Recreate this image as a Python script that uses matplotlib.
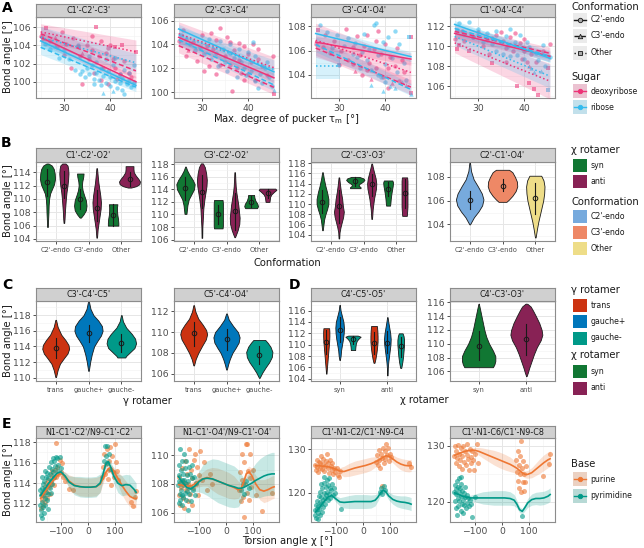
import numpy as np
import matplotlib
matplotlib.use("Agg")
import matplotlib.pyplot as plt
from matplotlib.patches import Rectangle
from matplotlib.ticker import MultipleLocator

# ---------------- data: panel A (bond angle vs. pucker amplitude) ----------------
conformations = ["C2'-endo", "C3'-endo", "Other"]
sugars = ["deoxyribose", "ribose"]
A_titles = ["C1'-C2'-C3'", "C2'-C3'-C4'", "C3'-C4'-O4'", "C1'-O4'-C4'"]

# fits: sugar, conformation index, x start, x end, y start, y end, band half-width start, end
fits_A1 = [(0, 0, 25, 45.5, 104.9, 100.0, 0.7, 0.6), (0, 1, 25, 45.5, 105.3, 101.2, 0.8, 0.8),
           (0, 2, 25, 45.5, 105.5, 103.3, 0.9, 1.3), (1, 0, 25, 45.5, 104.5, 99.6, 0.6, 0.4),
           (1, 1, 25, 45.5, 103.8, 99.4, 0.8, 0.5), (1, 2, 25, 45.5, 104.9, 102.1, 1.2, 1.0)]
fits_A2 = [(0, 0, 25, 45.5, 104.6, 101.2, 0.4, 0.4), (0, 1, 25, 45.5, 103.9, 100.4, 0.6, 0.6),
           (0, 2, 25, 45.5, 104.9, 102.05, 1.0, 0.9), (1, 0, 25, 45.5, 105.3, 101.7, 0.4, 0.3),
           (1, 1, 25, 45.5, 104.4, 100.6, 0.5, 0.5), (1, 2, 25, 45.5, 104.8, 101.9, 0.7, 0.8)]
fits_A3 = [(0, 0, 25, 45.5, 106.7, 105.3, 0.5, 0.5), (0, 1, 25, 45.5, 106.2, 103.0, 0.6, 0.6),
           (0, 2, 25, 45.5, 106.85, 104.2, 1.4, 1.0), (1, 0, 25, 45.5, 107.4, 105.5, 0.5, 0.4),
           (1, 1, 25, 45.5, 106.5, 102.8, 0.6, 0.5), (1, 2, 25, 30.3, 104.75, 104.75, 1.1, 1.1)]
fits_A4 = [(0, 0, 25, 45.5, 111.3, 109.0, 0.5, 0.5), (0, 1, 25, 45.5, 111.5, 109.3, 0.6, 0.6),
           (0, 2, 25, 45.5, 110.35, 106.5, 1.0, 1.8), (1, 0, 25, 45.5, 112.2, 108.8, 0.4, 0.4),
           (1, 1, 25, 45.5, 111.8, 109.0, 0.6, 0.6), (1, 2, 25, 45.5, 111.0, 107.0, 0.9, 1.2)]

# points: (tau_m, bond angle, conformation index)
pts_A1_deoxy = [(25, 105.1, 0), (25.5, 104.8, 1), (26.2, 105.9, 2), (27, 104.5, 0), (28.5, 103.8, 0), (29.5, 105.5, 0),
                (30.5, 104.2, 0), (31.5, 101.5, 0), (32, 104.8, 0), (33, 103.9, 0), (34, 99.8, 0), (35, 104.0, 0),
                (35.5, 102.5, 0), (36, 103.5, 0), (37, 106.0, 2), (37.5, 102.8, 0), (38, 104.5, 0), (38.5, 101.5, 0),
                (39, 103.2, 0), (39.5, 103.7, 0), (40, 104.0, 0), (40.5, 102.5, 0), (41, 103.8, 2), (41, 101.5, 0),
                (42, 100.8, 0), (42.5, 104.0, 2), (43, 102.3, 0), (44, 101.0, 0), (45.5, 103.3, 2), (44.5, 100.5, 0),
                (36.5, 101.0, 0), (33.5, 102.8, 0), (30, 103.0, 0), (38, 100.2, 0), (39.5, 99.8, 0), (41.5, 100.3, 0),
                (34, 103.2, 1), (36, 105.0, 0), (28, 104.9, 1)]
pts_A1_ribose = [(26, 104.2, 0), (27, 103.6, 0), (28, 103.9, 1), (29, 102.6, 0), (30, 103.5, 0), (31, 102.5, 0),
                 (33, 104.0, 0), (32.5, 101.3, 0), (34, 101.2, 0), (34.5, 100.5, 0), (35, 101.5, 0), (35.5, 100.8, 0),
                 (36, 101.8, 0), (36.5, 100.3, 0), (37, 101.0, 0), (37.5, 100.2, 0), (38, 101.5, 0), (38.5, 98.8, 1),
                 (38.5, 100.6, 0), (39, 99.9, 0), (39.5, 101.2, 0), (40, 100.5, 0), (40, 99.5, 0), (40.5, 101.8, 0),
                 (41, 100.1, 0), (41.5, 99.3, 0), (42, 100.8, 0), (42, 99.9, 0), (42.5, 100.4, 0), (43, 98.6, 0),
                 (43.5, 99.8, 0), (44, 100.2, 0), (44.5, 99.4, 0), (45, 100.0, 0), (45, 101.8, 0), (39, 102.5, 0),
                 (37, 102.2, 0), (35.5, 102.8, 0), (41, 102.6, 0), (43, 101.3, 0), (33.5, 100.9, 0), (44, 101.0, 0),
                 (38, 99.6, 0), (40.5, 99.0, 1), (36.5, 99.8, 0), (42.5, 99.1, 0)]
pts_A2_deoxy = [(25, 104.3, 0), (26, 105.2, 0), (26.5, 103.0, 0), (27, 103.5, 1), (28, 104.2, 0), (29, 102.6, 0),
                (30, 104.8, 0), (31, 103.9, 0), (31.5, 102.2, 0), (32, 105.0, 0), (32.5, 103.6, 0), (33, 104.4, 0),
                (34, 105.4, 0), (34, 102.3, 0), (35, 103.0, 0), (35.5, 104.6, 0), (36, 102.3, 0), (36.5, 100.1, 0),
                (37, 103.5, 0), (37.5, 102.0, 0), (38, 104.1, 0), (38.5, 101.6, 0), (39, 103.9, 0), (39, 101.0, 0),
                (40, 103.2, 0), (40.5, 102.5, 0), (41, 104.0, 0), (41.5, 101.0, 0), (42, 103.6, 0), (43, 102.2, 0),
                (44, 101.4, 0), (45.3, 103.0, 0), (45.5, 99.8, 2), (30.5, 101.8, 0), (33, 101.5, 0), (36, 104.2, 0),
                (38, 102.7, 0), (40, 101.5, 0), (42, 102.8, 0)]
pts_A2_ribose = [(25.5, 104.8, 0), (26.5, 104.5, 0), (27.5, 104.0, 0), (28.5, 103.5, 0), (29.5, 103.8, 0),
                 (30.5, 103.2, 0), (31.5, 104.5, 0), (32, 102.8, 0), (33, 103.3, 0), (33.5, 102.2, 0), (34.5, 103.6, 0),
                 (35, 102.5, 0), (35.5, 101.8, 0), (36, 103.3, 0), (37, 102.9, 0), (37.5, 101.3, 0), (38, 103.6, 0),
                 (38.5, 102.5, 0), (39, 102.0, 0), (39.5, 101.4, 0), (40, 103.4, 0), (40.5, 101.8, 0), (41, 104.2, 0),
                 (41.5, 100.9, 0), (42, 100.3, 0), (42.5, 101.5, 0), (43, 100.8, 0), (44, 102.5, 0), (44.5, 101.3, 0),
                 (45, 100.5, 0), (45.5, 100.2, 1), (36, 104.0, 0), (34, 104.3, 0), (41.5, 103.0, 0), (43.5, 102.0, 0)]
pts_A3_deoxy = [(25, 106.5, 0), (25.5, 107.7, 2), (26.5, 106.3, 0), (27, 107.3, 0), (28, 105.8, 0), (29, 106.8, 0),
                (30, 104.8, 0), (30.5, 106.0, 0), (31.5, 107.8, 0), (32, 105.2, 0), (33, 106.3, 0), (33.5, 104.3, 1),
                (34, 107.2, 0), (34.5, 105.6, 0), (35, 104.0, 0), (35.5, 106.4, 0), (36, 107.3, 0), (36.5, 105.0, 0),
                (37, 103.7, 1), (37.5, 106.1, 0), (38, 104.6, 0), (38.5, 107.6, 0), (39, 105.7, 0), (39.5, 103.8, 0),
                (40, 106.5, 0), (40.5, 104.6, 0), (41, 105.5, 0), (41.5, 103.3, 1), (42, 104.7, 0), (42.5, 106.2, 0),
                (43, 103.5, 0), (43.5, 105.2, 0), (44, 104.2, 0), (45.5, 102.5, 2), (45.5, 107.1, 2), (44.5, 103.2, 1),
                (36, 104.4, 0), (38, 106.8, 0), (33, 104.9, 0), (40.5, 102.9, 0)]
pts_A3_ribose = [(26, 108.1, 0), (27.5, 107.5, 0), (28.5, 106.2, 0), (29.5, 107.3, 0), (30, 104.8, 2), (31, 106.4, 0),
                 (32, 107.0, 0), (33, 105.7, 0), (33.5, 106.6, 0), (34.5, 104.6, 0), (35, 105.9, 0), (35.5, 107.4, 0),
                 (36.5, 106.1, 0), (37, 104.4, 0), (37.5, 108.1, 0), (38, 108.3, 0), (38.5, 105.6, 0), (39, 103.8, 0),
                 (39.5, 106.7, 0), (40, 104.9, 0), (40.5, 107.1, 0), (41, 103.1, 1), (41.5, 105.4, 0), (42, 102.9, 1),
                 (42.5, 104.2, 0), (43, 106.5, 0), (43.5, 103.4, 1), (44, 105.0, 0), (44.5, 103.6, 0), (45, 107.1, 2),
                 (45.5, 102.4, 1), (39.5, 102.7, 1), (37, 103.2, 1), (40, 103.4, 0), (42, 107.6, 0), (36, 105.2, 0),
                 (38.5, 104.0, 0), (34, 105.5, 0)]
pts_A4_deoxy = [(25, 110.7, 0), (25.5, 109.7, 2), (26, 110.1, 2), (26.5, 111.5, 0), (27, 110.5, 0), (28, 109.5, 2),
                (29, 110.9, 0), (30, 111.4, 0), (31, 110.0, 0), (32, 110.6, 0), (32.5, 109.2, 0), (33, 108.3, 2),
                (34, 111.1, 0), (35, 111.4, 0), (35.5, 110.5, 0), (36, 109.8, 0), (37, 110.9, 0), (37.5, 109.5, 0),
                (38, 111.3, 0), (38.5, 106.0, 2), (39, 110.3, 0), (39.5, 108.7, 0), (40, 110.7, 0), (40.5, 108.4, 0),
                (41, 106.3, 2), (41.5, 109.2, 0), (42, 105.7, 2), (42.5, 108.4, 0), (43, 105.1, 2), (44, 109.5, 0),
                (45, 107.8, 2), (45.5, 110.2, 0), (36, 108.4, 0), (33, 110.8, 0), (40, 109.5, 0), (41, 108.0, 1)]
pts_A4_ribose = [(25.5, 111.6, 0), (26, 112.3, 0), (27, 111.2, 0), (28, 112.4, 0), (29, 110.9, 0), (30, 111.7, 0),
                 (31, 110.4, 0), (32, 111.3, 0), (33, 110.2, 0), (34, 111.5, 0), (35, 110.4, 0), (35.5, 109.2, 0),
                 (36, 111.0, 0), (36.5, 110.0, 0), (37, 111.7, 0), (38, 110.4, 0), (38.5, 109.1, 0), (39, 111.1, 0),
                 (39.5, 109.8, 0), (40, 108.7, 0), (40.5, 110.4, 0), (41, 109.9, 0), (41.5, 107.8, 1), (42, 107.4, 1),
                 (42.5, 109.3, 0), (43, 108.6, 0), (44, 110.1, 0), (44.5, 108.0, 0), (45, 105.6, 2), (45.5, 108.9, 0),
                 (34, 109.5, 0), (37, 109.0, 0), (43.5, 107.5, 1)]

# ---------------- data: panel B (violins by conformation and chi rotamer) ----------------
# profiles: (bond angle, half width) from top to bottom; stats: (centre, low, high)
B_titles = ["C1'-C2'-O2'", "C3'-C2'-O2'", "C2'-C3'-O3'", "C2'-C1'-O4'"]
B1_syn = [[(115.3, 0.03), (115.0, 0.13), (114.5, 0.19), (113.8, 0.22), (113.0, 0.23), (112.2, 0.2), (111.5, 0.14),
           (110.8, 0.08), (110.0, 0.05), (109.0, 0.035), (108.0, 0.03), (107.0, 0.02), (105.8, 0.01)],
          [(113.8, 0.1), (113.3, 0.09), (112.6, 0.06), (112.0, 0.05), (111.3, 0.07), (110.5, 0.12), (109.8, 0.17),
           (109.0, 0.19), (108.3, 0.17), (107.7, 0.1), (107.2, 0.02)],
          [(109.2, 0.13), (108.8, 0.12), (108.2, 0.12), (107.6, 0.13), (107.0, 0.15), (106.4, 0.16), (106.0, 0.16)]]
B1_syn_stats = [(112.5, 110.5, 114.5), (110.0, 108.5, 111.5), (107.6, 106.0, 109.2)]
B1_anti = [[(115.3, 0.05), (115.0, 0.11), (114.5, 0.13), (113.8, 0.14), (113.0, 0.13), (112.0, 0.11), (111.0, 0.08),
            (110.0, 0.06), (109.0, 0.045), (108.0, 0.03), (107.0, 0.02), (106.4, 0.01)],
           [(114.6, 0.01), (113.5, 0.03), (112.5, 0.05), (111.5, 0.08), (110.5, 0.11), (109.5, 0.13), (108.5, 0.12),
            (107.5, 0.09), (106.5, 0.06), (105.5, 0.03), (104.2, 0.01)],
           [(114.9, 0.12), (114.5, 0.12), (114.0, 0.13), (113.5, 0.19), (113.0, 0.27), (112.6, 0.32), (112.2, 0.3),
            (111.9, 0.2), (111.7, 0.05)]]
B1_anti_stats = [(112.0, 110.2, 114.2), (108.7, 106.7, 111.3), (113.0, 112.0, 114.0)]
B2_syn = [[(117.6, 0.01), (117.0, 0.05), (116.3, 0.12), (115.5, 0.22), (114.8, 0.28), (114.0, 0.26), (113.2, 0.18),
           (112.4, 0.1), (111.5, 0.06), (110.6, 0.04), (110.1, 0.03)],
          [(112.3, 0.13), (111.8, 0.14), (111.0, 0.14), (110.0, 0.14), (109.0, 0.14), (108.2, 0.14), (107.8, 0.13)],
          [(113.1, 0.09), (112.7, 0.1), (112.2, 0.13), (111.7, 0.19), (111.3, 0.21), (111.0, 0.18)]]
B2_syn_stats = [(114.2, 112.3, 116.0), (110.0, 108.5, 111.5), (112.0, 111.2, 113.0)]
B2_anti = [[(118.1, 0.03), (117.5, 0.09), (116.5, 0.13), (115.5, 0.15), (114.5, 0.14), (113.5, 0.11), (112.5, 0.08),
            (111.0, 0.045), (109.5, 0.03), (108.0, 0.015), (106.3, 0.01)],
           [(116.7, 0.01), (115.5, 0.02), (114.5, 0.03), (113.5, 0.05), (112.5, 0.08), (111.5, 0.11), (110.5, 0.13),
            (109.5, 0.15), (108.5, 0.14), (107.5, 0.09), (106.8, 0.04), (106.4, 0.01)],
           [(114.1, 0.24), (113.9, 0.27), (113.6, 0.2), (113.2, 0.12), (112.8, 0.08), (112.4, 0.07), (112.0, 0.06)]]
B2_anti_stats = [(113.6, 111.0, 116.3), (110.5, 107.6, 113.4), (113.4, 112.6, 114.0)]
B3_syn = [[(116.2, 0.01), (115.0, 0.04), (113.5, 0.09), (112.3, 0.14), (111.0, 0.18), (110.0, 0.18), (109.0, 0.14),
           (108.0, 0.09), (107.0, 0.05), (106.0, 0.03), (104.9, 0.01)],
          [(115.3, 0.12), (115.0, 0.25), (114.7, 0.28), (114.3, 0.22), (113.9, 0.12), (113.6, 0.1), (113.3, 0.16),
           (113.1, 0.16)],
          [(114.6, 0.13), (114.2, 0.15), (113.5, 0.14), (112.8, 0.12), (112.0, 0.1), (111.0, 0.08), (110.2, 0.07),
           (109.7, 0.06)]]
B3_syn_stats = [(110.4, 108.3, 112.8), (114.5, 113.6, 115.2), (113.0, 111.5, 114.3)]
B3_anti = [[(115.2, 0.01), (114.0, 0.03), (112.5, 0.06), (111.0, 0.1), (109.7, 0.12), (108.5, 0.15), (107.5, 0.13),
            (106.5, 0.09), (105.5, 0.05), (104.5, 0.02), (103.3, 0.01)],
           [(117.9, 0.01), (117.0, 0.04), (116.0, 0.08), (115.0, 0.12), (114.0, 0.14), (113.0, 0.13), (112.0, 0.1),
            (111.0, 0.07), (110.0, 0.05), (109.0, 0.03), (108.0, 0.02), (107.1, 0.01)],
           [(115.2, 0.08), (114.5, 0.09), (113.5, 0.09), (112.5, 0.09), (111.5, 0.09), (110.5, 0.09), (109.5, 0.09),
            (108.5, 0.08), (107.7, 0.07)]]
B3_anti_stats = [(109.7, 106.3, 112.8), (113.9, 111.6, 115.8), (112.2, 109.2, 114.8)]
B4_conf = [[(109.2, 0.01), (108.5, 0.04), (107.8, 0.12), (107.2, 0.25), (106.6, 0.37), (106.1, 0.42), (105.6, 0.38),
            (105.1, 0.27), (104.6, 0.13), (104.2, 0.05), (104.0, 0.01)],
           [(108.6, 0.2), (108.4, 0.3), (108.0, 0.38), (107.6, 0.44), (107.2, 0.45), (106.8, 0.4), (106.4, 0.3),
            (106.1, 0.2), (105.9, 0.12)],
           [(108.1, 0.18), (107.7, 0.25), (107.2, 0.28), (106.6, 0.27), (106.0, 0.24), (105.4, 0.19), (104.8, 0.14),
            (104.2, 0.09), (103.6, 0.05), (102.9, 0.01)]]
B4_conf_stats = [(106.05, 105.3, 106.8), (107.25, 106.8, 107.8), (106.2, 104.9, 107.5)]

# ---------------- data: panels C and D ----------------
gamma_rot = ["trans", "gauche+", "gauche-"]
chi_rot = ["syn", "anti"]
C1_prof = [[(117.4, 0.01), (116.5, 0.06), (115.5, 0.17), (114.8, 0.3), (114.2, 0.39), (113.7, 0.41), (113.1, 0.36),
            (112.5, 0.25), (111.8, 0.13), (111.0, 0.06), (110.1, 0.01)],
           [(119.8, 0.01), (118.8, 0.06), (118.0, 0.15), (117.3, 0.3), (116.6, 0.41), (116.0, 0.43), (115.4, 0.38),
            (114.7, 0.27), (114.0, 0.17), (113.0, 0.1), (112.0, 0.05), (110.9, 0.01)],
           [(118.0, 0.01), (117.2, 0.05), (116.4, 0.15), (115.6, 0.32), (115.0, 0.42), (114.4, 0.45), (113.8, 0.4),
            (113.2, 0.25), (112.8, 0.15), (112.6, 0.12)]]
C1_stats = [(113.8, 112.5, 115.1), (115.7, 114.6, 116.8), (114.4, 113.3, 115.6)]
C2_prof = [[(112.6, 0.01), (112.0, 0.05), (111.3, 0.14), (110.7, 0.28), (110.2, 0.38), (109.8, 0.41), (109.3, 0.37),
            (108.7, 0.26), (108.0, 0.14), (107.4, 0.06), (106.8, 0.01)],
           [(111.8, 0.01), (111.2, 0.07), (110.6, 0.2), (110.0, 0.35), (109.5, 0.4), (109.0, 0.37), (108.5, 0.28),
            (108.0, 0.18), (107.4, 0.1), (106.9, 0.05), (106.4, 0.01)],
           [(109.25, 0.18), (109.0, 0.25), (108.6, 0.34), (108.1, 0.4), (107.6, 0.38), (107.1, 0.3), (106.6, 0.19),
            (106.1, 0.09), (105.6, 0.01)]]
C2_stats = [(109.9, 108.7, 111.0), (109.35, 108.3, 110.3), (107.8, 106.9, 108.7)]
D1_syn = [[(112.9, 0.06), (112.3, 0.065), (111.5, 0.065), (110.5, 0.06), (109.5, 0.05), (108.5, 0.04), (107.5, 0.03),
           (106.5, 0.02), (105.5, 0.01), (104.9, 0.005)],
          [(117.0, 0.005), (116.0, 0.02), (115.0, 0.05), (114.0, 0.08), (113.0, 0.09), (112.0, 0.085), (111.0, 0.07),
           (110.0, 0.05), (109.0, 0.03), (108.0, 0.02), (107.3, 0.005)],
          [(111.6, 0.1), (111.4, 0.16), (111.1, 0.12), (110.7, 0.08), (110.2, 0.06), (109.6, 0.05), (109.05, 0.045)]]
D1_syn_stats = [(110.5, 108.3, 112.6), (112.6, 110.5, 114.8), (111.0, 110.2, 111.6)]
D1_anti = [[(113.3, 0.06), (112.5, 0.07), (111.5, 0.075), (110.5, 0.075), (109.5, 0.065), (108.5, 0.05),
            (107.5, 0.03), (106.8, 0.01)],
           [(114.85, 0.005), (114.0, 0.02), (113.0, 0.04), (112.0, 0.06), (111.0, 0.07), (110.0, 0.065), (109.0, 0.05),
            (108.0, 0.035), (107.0, 0.02), (106.0, 0.01), (104.6, 0.005)],
           [(112.0, 0.04), (111.5, 0.06), (110.8, 0.07), (110.0, 0.07), (109.0, 0.06), (108.0, 0.05), (107.0, 0.035),
            (106.3, 0.02), (105.9, 0.01)]]
D1_anti_stats = [(110.3, 108.3, 112.3), (110.3, 108.5, 112.5), (109.7, 107.8, 111.3)]
D2_prof = [[(115.8, 0.005), (115.0, 0.03), (114.0, 0.06), (113.0, 0.09), (112.0, 0.12), (111.0, 0.16), (110.0, 0.22),
            (109.0, 0.3), (108.2, 0.35), (107.5, 0.35), (107.0, 0.33), (106.6, 0.3)],
           [(115.8, 0.02), (115.4, 0.09), (114.8, 0.14), (114.0, 0.2), (113.0, 0.27), (112.0, 0.32), (111.3, 0.335),
            (110.5, 0.3), (109.5, 0.22), (108.5, 0.16), (107.5, 0.11), (106.5, 0.06), (105.8, 0.03), (105.3, 0.005)]]
D2_stats = [(109.7, 107.7, 111.8), (110.7, 108.3, 112.9)]

# ---------------- data: panel E (bond angle vs. torsion chi) ----------------
E_titles = ["N1-C1'-C2'/N9-C1'-C2'", "N1-C1'-O4'/N9-C1'-O4'", "C1'-N1-C2/C1'-N9-C4", "C1'-N1-C6/C1'-N9-C8"]
bases = ["purine", "pyrimidine"]
chi_nodes = [-175, -160, -145, -130, -115, -100, -85, -70, -50, -30, -10, 10, 30, 45, 55, 65, 75, 85, 95, 110,
             125, 140, 155, 170, 178]
E1_pur_y = [112.5, 113.1, 113.7, 114.2, 114.7, 114.95, 114.7, 114.2, 113.8, 113.65, 113.6, 113.6, 113.65, 113.9,
            114.4, 115.0, 115.4, 115.5, 115.2, 114.5, 113.8, 113.2, 112.7, 112.5, 112.5]
E1_pur_hw = [0.4, 0.25, 0.2, 0.2, 0.2, 0.25, 0.4, 0.6, 0.8, 0.9, 0.9, 0.9, 0.9, 0.8, 0.5, 0.35, 0.3, 0.3, 0.35,
             0.6, 0.9, 1.0, 1.0, 0.9, 0.9]
E1_pyr_y = [112.8, 113.4, 114.0, 114.5, 114.95, 115.1, 114.7, 114.1, 113.75, 113.65, 113.6, 113.6, 113.65, 114.0,
            114.8, 115.8, 116.1, 115.5, 114.7, 114.0, 113.75, 113.85, 113.8, 113.4, 113.1]
E1_pyr_hw = [0.3, 0.2, 0.15, 0.15, 0.15, 0.2, 0.35, 0.6, 0.9, 1.0, 1.0, 1.0, 1.0, 0.9, 0.6, 0.4, 0.4, 0.5, 0.7,
             0.9, 1.0, 1.0, 1.0, 0.9, 0.9]
E2_pur_y = [107.95, 107.9, 107.85, 107.85, 108.0, 108.2, 108.35, 108.45, 108.35, 108.2, 108.05, 107.9, 107.75,
            107.6, 107.65, 108.1, 108.7, 108.85, 108.6, 108.0, 107.6, 107.5, 107.6, 107.75, 107.8]
E2_pur_hw = [0.4, 0.3, 0.25, 0.25, 0.3, 0.4, 0.5, 0.6, 0.8, 0.9, 0.9, 0.9, 0.8, 0.6, 0.4, 0.35, 0.35, 0.4, 0.5,
             0.6, 0.7, 0.8, 0.8, 0.8, 0.8]
E2_pyr_y = [108.5, 108.1, 107.75, 107.65, 107.85, 108.15, 108.35, 108.4, 108.35, 108.2, 108.05, 107.9, 107.8,
            107.7, 107.7, 107.75, 107.85, 107.95, 108.05, 108.25, 108.4, 108.55, 108.65, 108.7, 108.7]
E2_pyr_hw = [0.3, 0.2, 0.15, 0.2, 0.4, 0.7, 1.0, 1.2, 1.4, 1.5, 1.5, 1.5, 1.45, 1.3, 1.0, 0.7, 0.6, 0.8, 1.0, 1.2,
             1.35, 1.4, 1.45, 1.5, 1.5]
E3_pur_y = [126.3, 126.2, 126.1, 126.0, 125.8, 125.4, 125.0, 124.9, 125.3, 125.7, 126.0, 126.3, 126.7, 127.1, 127.4,
            127.8, 128.2, 128.5, 128.4, 127.8, 127.1, 126.6, 126.3, 126.2, 126.3]
E3_pur_hw = [0.5, 0.4, 0.35, 0.35, 0.4, 0.5, 0.8, 1.2, 1.5, 1.6, 1.6, 1.6, 1.5, 1.2, 0.9, 0.7, 0.6, 0.6, 0.7, 0.9,
             1.1, 1.3, 1.4, 1.4, 1.4]
E3_pyr_y = [115.6, 116.7, 117.9, 119.0, 119.4, 118.6, 117.9, 117.8, 117.9, 118.0, 118.0, 118.0, 118.0, 118.3, 119.0,
            120.0, 120.6, 120.2, 119.3, 118.5, 118.1, 117.9, 117.8, 117.6, 117.4]
E3_pyr_hw = [0.5, 0.3, 0.25, 0.3, 0.4, 0.7, 1.0, 1.3, 1.5, 1.6, 1.6, 1.6, 1.5, 1.3, 0.9, 0.7, 0.6, 0.7, 0.9, 1.1,
             1.3, 1.4, 1.5, 1.5, 1.5]
E4_pur_y = [128.3, 128.6, 128.9, 129.1, 129.2, 129.2, 129.0, 128.7, 128.3, 127.9, 127.5, 127.1, 126.7, 126.3, 126.0,
            125.6, 125.2, 124.9, 124.9, 125.2, 125.8, 126.4, 127.0, 127.5, 127.7]
E4_pur_hw = [0.5, 0.4, 0.35, 0.35, 0.4, 0.5, 0.7, 0.9, 1.1, 1.3, 1.4, 1.4, 1.3, 1.1, 0.9, 0.7, 0.6, 0.6, 0.7, 0.9,
             1.1, 1.3, 1.4, 1.4, 1.4]
E4_pyr_y = [121.6, 121.3, 121.0, 120.8, 120.7, 120.7, 120.7, 120.7, 120.7, 120.7, 120.7, 120.7, 120.6, 120.3, 119.6,
            118.6, 118.3, 119.0, 119.8, 120.4, 120.6, 120.6, 120.7, 121.0, 121.3]
E4_pyr_hw = [0.5, 0.3, 0.25, 0.3, 0.5, 0.7, 0.9, 1.1, 1.2, 1.3, 1.3, 1.3, 1.2, 1.0, 0.7, 0.5, 0.5, 0.6, 0.8, 1.0,
             1.1, 1.2, 1.2, 1.2, 1.2]

pts_E1_pur = [(-174, 111.6), (-171, 112.3), (-168, 113.0), (-166, 111.9), (-163, 112.7), (-160, 113.6), (-158, 112.2),
              (-155, 114.0), (-152, 113.1), (-150, 112.5), (-147, 114.3), (-144, 113.6), (-141, 112.9), (-138, 114.8),
              (-135, 113.9), (-132, 115.2), (-128, 114.5), (-125, 113.8), (-121, 115.3), (-118, 114.6), (-117, 117.9),
              (-113, 115.6), (-109, 114.9), (-105, 116.3), (-100, 115.1), (-96, 116.0), (-92, 114.6), (-85, 114.2),
              (-70, 113.4), (-55, 113.3), (52, 114.6), (57, 115.6), (61, 116.8), (64, 114.9), (67, 115.9),
              (70, 117.3), (73, 114.4), (76, 116.2), (79, 115.3), (82, 117.5), (85, 113.8), (88, 116.6), (91, 115.1),
              (100, 117.8), (98, 114.6), (102, 116.1), (106, 115.2), (110, 114.3), (160, 112.2), (168, 111.8),
              (172, 112.6), (177, 113.2)]
pts_E1_pyr = [(-176, 111.9), (-175, 110.9), (-174, 112.8), (-172, 111.4), (-171, 113.5), (-170, 110.6), (-169, 112.2),
              (-167, 113.9), (-166, 111.7), (-165, 112.8), (-163, 111.1), (-162, 114.2), (-160, 112.5), (-159, 113.4),
              (-157, 111.9), (-156, 114.6), (-154, 113.1), (-152, 112.3), (-151, 115.0), (-149, 113.8), (-147, 112.9),
              (-146, 114.5), (-144, 115.6), (-142, 113.5), (-140, 114.9), (-138, 116.1), (-136, 114.2), (-134, 115.4),
              (-132, 113.9), (-130, 116.4), (-128, 115.1), (-126, 114.6), (-124, 116.2), (-122, 115.7), (-119, 116.5),
              (-116, 115.3), (-113, 116.4), (-110, 115.8), (-105, 116.5), (-100, 115.5), (-168, 114.6), (-158, 115.2),
              (-148, 111.5), (-138, 113.0), (-176, 113.3), (58, 116.2), (63, 117.6), (66, 116.6), (70, 117.6),
              (72, 116.0), (76, 116.8), (80, 115.4)]
pts_E2_pur = [(-175, 107.2), (-172, 108.5), (-169, 106.5), (-166, 107.8), (-163, 109.1), (-160, 107.0), (-157, 108.2),
              (-154, 106.3), (-151, 109.6), (-148, 107.6), (-145, 108.7), (-142, 106.8), (-139, 108.0), (-136, 110.4),
              (-133, 107.3), (-130, 109.0), (-127, 106.5), (-124, 108.4), (-121, 107.7), (-118, 109.7), (-115, 110.1),
              (-112, 108.0), (-108, 109.2), (-104, 107.2), (-100, 108.6), (-95, 110.3), (-90, 108.3), (-80, 109.5),
              (-70, 107.6), (-60, 108.7), (-50, 108.0), (48, 107.6), (52, 108.8), (55, 106.8), (58, 110.1),
              (61, 108.3), (63, 107.1), (66, 109.5), (68, 105.7), (71, 108.0), (73, 110.8), (76, 107.4), (79, 110.8),
              (81, 108.9), (84, 106.9), (87, 108.4), (90, 110.1), (94, 107.8), (100, 109.0), (110, 107.2),
              (135, 106.1), (170, 107.4)]
pts_E2_pyr = [(-176, 107.9), (-175, 109.3), (-174, 106.7), (-172, 108.6), (-171, 107.3), (-170, 110.4), (-169, 108.1),
              (-168, 106.9), (-166, 109.0), (-165, 107.6), (-164, 108.3), (-162, 106.5), (-161, 109.6), (-160, 107.9),
              (-158, 108.7), (-157, 107.1), (-155, 110.1), (-154, 108.3), (-152, 107.4), (-151, 109.1), (-149, 106.9),
              (-148, 108.0), (-146, 109.6), (-145, 107.5), (-143, 108.6), (-141, 106.2), (-140, 108.2), (-138, 109.2),
              (-136, 107.3), (-134, 108.7), (-132, 107.8), (-130, 106.8), (-127, 108.4), (-124, 109.3), (-121, 107.6),
              (-118, 108.5), (-114, 107.2), (-110, 108.1), (-174, 108.2), (-163, 107.2), (-150, 108.1), (55, 107.6),
              (62, 108.0), (68, 107.3), (75, 108.2), (85, 107.7)]
pts_E3_pur = [(-176, 126.5), (-173, 125.3), (-170, 127.6), (-168, 126.0), (-165, 124.8), (-162, 127.1), (-160, 125.8),
              (-157, 126.9), (-154, 128.4), (-152, 125.4), (-149, 126.6), (-146, 127.8), (-143, 125.0), (-140, 126.2),
              (-137, 127.3), (-134, 128.9), (-131, 125.7), (-128, 126.8), (-125, 124.6), (-122, 127.5), (-119, 126.1),
              (-116, 125.3), (-113, 126.9), (-110, 124.3), (-106, 125.6), (-102, 124.9), (-97, 125.7), (-92, 124.2),
              (-88, 123.7), (-85, 125.1), (48, 127.2), (52, 128.6), (55, 126.3), (58, 129.9), (61, 127.6),
              (64, 125.8), (67, 129.0), (69, 121.6), (71, 128.0), (74, 130.4), (77, 126.9), (80, 129.5), (83, 127.8),
              (86, 131.2), (89, 128.7), (92, 130.2), (96, 127.3), (100, 129.0), (104, 128.2), (170, 126.9),
              (176, 126.0)]
pts_E3_pyr = [(-178, 116.0), (-176, 115.0), (-174, 117.3), (-172, 114.3), (-170, 116.3), (-169, 118.2), (-167, 115.4),
              (-165, 117.0), (-164, 119.2), (-162, 116.2), (-160, 118.0), (-159, 114.8), (-157, 120.2), (-155, 117.4),
              (-154, 119.0), (-152, 115.7), (-150, 121.0), (-149, 118.4), (-147, 116.7), (-145, 120.0), (-143, 122.2),
              (-142, 118.9), (-140, 117.4), (-138, 121.3), (-136, 119.6), (-134, 122.9), (-132, 120.3), (-130, 118.3),
              (-128, 121.8), (-126, 123.5), (-124, 119.8), (-122, 121.0), (-120, 118.9), (-117, 120.6), (-114, 122.0),
              (-110, 119.5), (-107, 121.0), (-103, 120.0), (-82, 116.2), (-166, 113.9), (-156, 122.0), (-145, 123.6),
              (62, 120.2), (68, 121.2), (72, 119.7), (76, 121.6), (80, 120.6)]
pts_E4_pur = [(-176, 128.2), (-173, 130.0), (-170, 127.0), (-168, 129.0), (-165, 127.8), (-162, 130.2), (-160, 126.4),
              (-157, 128.6), (-154, 127.4), (-152, 129.6), (-149, 125.9), (-146, 128.1), (-143, 130.0), (-140, 127.1),
              (-137, 129.1), (-134, 126.6), (-131, 128.4), (-128, 130.3), (-125, 127.6), (-122, 125.6), (-119, 129.5),
              (-116, 128.0), (-113, 126.9), (-110, 129.0), (-106, 127.4), (-102, 125.7), (-98, 128.6), (-94, 130.3),
              (-90, 127.0), (52, 127.5), (55, 125.3), (58, 129.0), (60, 123.8), (62, 126.6), (64, 122.4),
              (66, 128.1), (68, 124.9), (70, 130.9), (72, 121.8), (74, 126.0), (76, 123.6), (78, 127.3), (80, 122.0),
              (83, 125.0), (86, 123.5), (90, 126.4), (150, 124.6), (172, 126.7), (176, 128.6)]
pts_E4_pyr = [(-176, 121.7), (-174, 123.0), (-172, 120.2), (-171, 122.3), (-169, 118.9), (-168, 121.4), (-166, 123.8),
              (-164, 120.6), (-163, 122.7), (-161, 119.3), (-160, 121.7), (-158, 124.2), (-157, 120.1), (-155, 122.5),
              (-153, 118.3), (-152, 121.1), (-150, 123.2), (-148, 119.7), (-147, 122.0), (-145, 120.4), (-143, 118.0),
              (-141, 121.5), (-139, 119.4), (-137, 122.6), (-135, 120.8), (-133, 118.9), (-130, 121.2), (-128, 119.8),
              (-125, 120.7), (-122, 119.2), (-118, 120.3), (-114, 119.7), (-112, 117.3), (-101, 120.8),
              (-166, 117.6), (-150, 124.5), (75, 117.5)]

# ---------------- styling ----------------
PINK, BLUE = "#EE3377", "#33BBEE"
SUGAR_COL = [PINK, BLUE]
SYN, ANTI = "#117733", "#882255"
CONF_COL = ["#77AADD", "#EE8866", "#EEDD88"]
GAMMA_COL = ["#CC3311", "#0077BB", "#009988"]
BASE_COL = ["#EE7733", "#009988"]
MARKERS = ["o", "^", "s"]
LSTYLES = ["-", (0, (3.2, 1.8)), (0, (1, 1.6))]
EDGE, STRIP = "#8C8C8C", "#D0D0D0"

W, H = 644, 548
COLS = [(36, 141), (174, 279), (311, 416), (450, 555)]
ROWS = {"A": (3.5, 16.5, 98), "B": (148, 161.5, 241), "C": (288, 301, 381), "E": (425.5, 438, 522)}

fig = plt.figure(figsize=(W / 100, H / 100), dpi=100)


def make_panel(col, row, title, xlim, ylim, ymaj, ymin=None):
    x0, x1 = COLS[col]
    s0, p0, p1 = ROWS[row]
    ax = fig.add_axes([x0 / W, 1 - p1 / H, (x1 - x0) / W, (p1 - p0) / H])
    ax.set_xlim(xlim)
    ax.set_ylim(ylim)
    ax.yaxis.set_major_locator(MultipleLocator(ymaj))
    if ymin:
        ax.yaxis.set_minor_locator(MultipleLocator(ymin))
    for sp in ax.spines.values():
        sp.set_color(EDGE)
        sp.set_linewidth(0.8)
    ax.set_axisbelow(True)
    ax.grid(True, which="major", color="#E6E6E6", lw=0.7)
    ax.grid(True, which="minor", color="#F2F2F2", lw=0.4)
    ax.tick_params(which="major", length=2.5, width=0.6, color="#333333", labelsize=6.7,
                   labelcolor="#4D4D4D", pad=1.5)
    ax.tick_params(which="minor", length=0)
    st = fig.add_axes([x0 / W, 1 - p0 / H, (x1 - x0) / W, (p0 - s0) / H])
    st.set_xticks([])
    st.set_yticks([])
    st.set_facecolor(STRIP)
    for sp in st.spines.values():
        sp.set_color(EDGE)
        sp.set_linewidth(0.8)
    st.text(0.5, 0.48, title, ha="center", va="center", fontsize=5.8, color="#1A1A1A", transform=st.transAxes)
    return ax


def violin(ax, xc, prof, color, stats):
    ys = [p[0] for p in prof]
    hw = np.array([p[1] for p in prof])
    ax.fill_betweenx(ys, xc - hw, xc + hw, facecolor=color, edgecolor="#1A1A1A", lw=0.6, zorder=2)
    c, lo, hi = stats
    ax.plot([xc, xc], [lo, hi], color="#1A1A1A", lw=0.8, zorder=3)
    ax.plot([xc], [c], marker="o", ms=3.3, mfc="none", mec="#1A1A1A", mew=0.7, zorder=4)


def cat_axis(ax, labels):
    ax.set_xticks(range(1, len(labels) + 1))
    ax.set_xticklabels(labels, fontsize=4.9)
    ax.xaxis.grid(True, which="major", color="#E6E6E6", lw=0.7)


# ---------------- panel A ----------------
A_fits = [fits_A1, fits_A2, fits_A3, fits_A4]
A_pts = [(pts_A1_deoxy, pts_A1_ribose), (pts_A2_deoxy, pts_A2_ribose), (pts_A3_deoxy, pts_A3_ribose),
         (pts_A4_deoxy, pts_A4_ribose)]
A_ylims = [(98.2, 107.2), (99.5, 106.35), (102.1, 108.8), (104.8, 113.0)]
for i in range(4):
    ax = make_panel(i, "A", A_titles[i], (24.0, 46.6), A_ylims[i], 2, 1)
    ax.set_xticks([30, 40])
    ax.xaxis.set_minor_locator(MultipleLocator(5))
    for s, pts in enumerate(A_pts[i]):
        for c in range(3):
            sel = [p for p in pts if p[2] == c]
            if sel:
                ax.scatter([p[0] for p in sel], [p[1] for p in sel], s=10, marker=MARKERS[c],
                           color=SUGAR_COL[s], alpha=0.55, lw=0, zorder=2)
    for s, c, xa, xb, ya, yb, ha, hb in A_fits[i]:
        ax.fill_between([xa, xb], [ya - ha, yb - hb], [ya + ha, yb + hb], color=SUGAR_COL[s], alpha=0.2,
                        lw=0, zorder=3)
    for s, c, xa, xb, ya, yb, ha, hb in A_fits[i]:
        ax.plot([xa, xb], [ya, yb], color=SUGAR_COL[s], lw=1.1, ls=LSTYLES[c], zorder=4)

# ---------------- panel B ----------------
B_syn = [(B1_syn, B1_syn_stats), (B2_syn, B2_syn_stats), (B3_syn, B3_syn_stats)]
B_anti = [(B1_anti, B1_anti_stats), (B2_anti, B2_anti_stats), (B3_anti, B3_anti_stats)]
B_ylims = [(103.7, 115.6), (105.8, 118.4), (102.8, 118.3), (102.6, 109.3)]
for i in range(4):
    ax = make_panel(i, "B", B_titles[i], (0.4, 3.6), B_ylims[i], 2, 1)
    cat_axis(ax, conformations)
    if i < 3:
        for k in range(3):
            violin(ax, k + 1 - 0.25, B_syn[i][0][k], SYN, B_syn[i][1][k])
            violin(ax, k + 1 + 0.25, B_anti[i][0][k], ANTI, B_anti[i][1][k])
    else:
        for k in range(3):
            violin(ax, k + 1, B4_conf[k], CONF_COL[k], B4_conf_stats[k])

# ---------------- panels C and D ----------------
C_data = [(C1_prof, C1_stats, "C3'-C4'-C5'", (109.6, 119.8)), (C2_prof, C2_stats, "C5'-C4'-O4'", (105.3, 113.0))]
for i, (prof, stats, title, yl) in enumerate(C_data):
    ax = make_panel(i, "C", title, (0.4, 3.6), yl, 2, 1)
    cat_axis(ax, gamma_rot)
    for k in range(3):
        violin(ax, k + 1, prof[k], GAMMA_COL[k], stats[k])

ax = make_panel(2, "C", "C4'-C5'-O5'", (0.4, 2.6), (103.6, 117.7), 2, 1)
cat_axis(ax, chi_rot)
for k, off in enumerate([-0.28, 0.0, 0.28]):
    violin(ax, 1 + off, D1_syn[k], GAMMA_COL[k], D1_syn_stats[k])
    violin(ax, 2 + off, D1_anti[k], GAMMA_COL[k], D1_anti_stats[k])

ax = make_panel(3, "C", "C4'-C3'-O3'", (0.4, 2.6), (104.6, 116.2), 2, 1)
cat_axis(ax, chi_rot)
for k, col in enumerate([SYN, ANTI]):
    violin(ax, k + 1, D2_prof[k], col, D2_stats[k])

# ---------------- panel E ----------------
E_curves = [((E1_pur_y, E1_pur_hw), (E1_pyr_y, E1_pyr_hw)), ((E2_pur_y, E2_pur_hw), (E2_pyr_y, E2_pyr_hw)),
            ((E3_pur_y, E3_pur_hw), (E3_pyr_y, E3_pyr_hw)), ((E4_pur_y, E4_pur_hw), (E4_pyr_y, E4_pyr_hw))]
E_pts = [(pts_E1_pur, pts_E1_pyr), (pts_E2_pur, pts_E2_pyr), (pts_E3_pur, pts_E3_pyr), (pts_E4_pur, pts_E4_pyr)]
E_ylims = [(110.2, 118.4), (105.35, 111.2), (113.3, 132.6), (116.4, 131.4)]
E_major = [2, 2, 10, 10]
for i in range(4):
    ax = make_panel(i, "E", E_titles[i], (-192, 196), E_ylims[i], E_major[i], E_major[i] / 2)
    ax.set_xticks([-100, 0, 100])
    ax.xaxis.set_minor_locator(MultipleLocator(50))
    ax.tick_params(axis="x", pad=1.0)
    for b in range(2):
        pts = E_pts[i][b]
        ax.scatter([p[0] for p in pts], [p[1] for p in pts], s=13, color=BASE_COL[b], alpha=0.6, lw=0, zorder=2)
    for b in range(2):
        y = np.array(E_curves[i][b][0])
        hw = np.array(E_curves[i][b][1])
        ax.fill_between(chi_nodes, y - hw, y + hw, color=BASE_COL[b], alpha=0.22, lw=0, zorder=3)
    for b in range(2):
        ax.plot(chi_nodes, E_curves[i][b][0], color=BASE_COL[b], lw=1.2, zorder=4)

# ---------------- overlay: letters, axis titles, legends ----------------
ov = fig.add_axes([0, 0, 1, 1], zorder=10)
ov.set_xlim(0, W)
ov.set_ylim(H, 0)
ov.axis("off")

for letter, (lx, ly) in {"A": (7, 8), "B": (6.5, 143), "C": (7, 285), "D": (295, 285), "E": (7, 424)}.items():
    ov.text(lx, ly, letter, fontsize=10, fontweight="bold", ha="center", va="center", color="black")
for yy in [57, 201, 341, 480]:
    ov.text(8, yy, "Bond angle [°]", rotation=90, fontsize=7.2, ha="center", va="center", color="#1A1A1A")
ov.text(286, 119, "Max. degree of pucker τ$_{\\mathrm{m}}$ [°]", fontsize=7.2, ha="center", va="center",
        color="#1A1A1A")
ov.text(287, 263, "Conformation", fontsize=7.2, ha="center", va="center", color="#1A1A1A")
ov.text(147, 401, "γ rotamer", fontsize=7.2, ha="center", va="center", color="#1A1A1A")
ov.text(424, 400, "χ rotamer", fontsize=7.2, ha="center", va="center", color="#1A1A1A")
ov.text(287.5, 541.5, "Torsion angle χ [°]", fontsize=7.2, ha="center", va="center", color="#1A1A1A")

KX, KW, KH = 573.5, 14, 14


def leg_title(y, txt):
    ov.text(571.5, y, txt, fontsize=7.2, ha="left", va="center", color="#1A1A1A")


def leg_label(y, txt):
    ov.text(KX + KW + 3, y, txt, fontsize=5.6, ha="left", va="center", color="#1A1A1A")


def fill_key(y, color, txt):
    ov.add_patch(Rectangle((KX, y - 6.5), KW, 13, facecolor=color, edgecolor="none"))
    leg_label(y, txt)


def line_key(y, color, ls, marker, band, txt):
    ov.add_patch(Rectangle((KX, y - KH / 2), KW, KH, facecolor="#EBEBEB", edgecolor="none"))
    if band:
        ov.add_patch(Rectangle((KX, y - KH / 2), KW, KH, facecolor=color, alpha=0.22, edgecolor="none"))
    ov.plot([KX + 1, KX + KW - 1], [y, y], color=color, lw=1.0, ls=ls)
    ov.plot([KX + KW / 2], [y], marker=marker, ms=3.2, color=color, mfc=color if band else "#AAAAAA", mew=0.6)
    leg_label(y, txt)


leg_title(7, "Conformation")
for k, yy in enumerate([20, 36, 52.5]):
    line_key(yy, "#1A1A1A", LSTYLES[k], MARKERS[k], False, conformations[k])
leg_title(77, "Sugar")
for k, yy in enumerate([91, 107]):
    line_key(yy, SUGAR_COL[k], "-", "o", True, sugars[k])

leg_title(150, "χ rotamer")
fill_key(165.5, SYN, "syn")
fill_key(181.5, ANTI, "anti")
leg_title(202, "Conformation")
for k, yy in enumerate([216.5, 232.5, 248.5]):
    fill_key(yy, CONF_COL[k], conformations[k])

leg_title(290, "γ rotamer")
for k, yy in enumerate([305, 321.5, 338]):
    fill_key(yy, GAMMA_COL[k], gamma_rot[k])
leg_title(355.5, "χ rotamer")
fill_key(371.5, SYN, "syn")
fill_key(388, ANTI, "anti")

leg_title(464, "Base")
for k, yy in enumerate([479, 496]):
    line_key(yy, BASE_COL[k], "-", "o", True, bases[k])

fig.savefig("out.png", dpi=100)
